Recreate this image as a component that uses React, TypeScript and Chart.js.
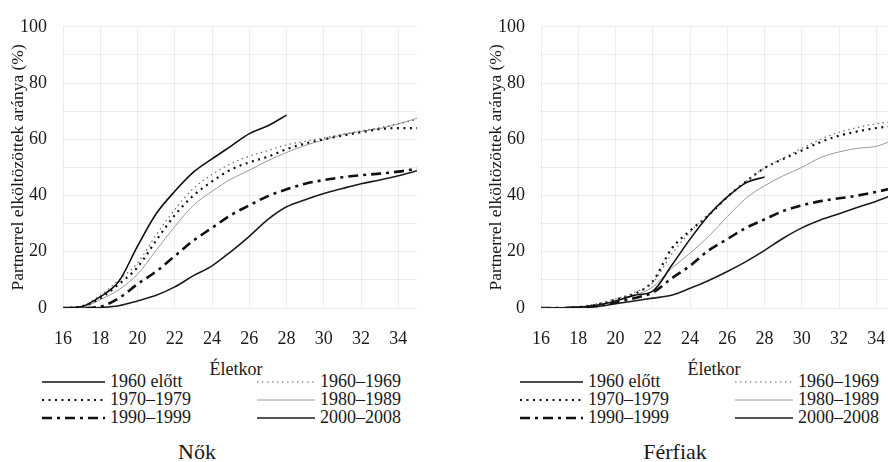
import React, { useEffect, useRef } from "react";
import { Chart, registerables } from "chart.js";

Chart.register(...registerables);

// ---------- data ----------
const AGES = [16, 17, 18, 19, 20, 21, 22, 23, 24, 25, 26, 27, 28, 29, 30, 31, 32, 33, 34, 35];
const X_TICKS = [16, 18, 20, 22, 24, 26, 28, 30, 32, 34];
const Y_TICKS = [0, 10, 20, 30, 40, 50, 60, 70, 80, 90, 100];
const Y_LABELED = [0, 20, 40, 60, 80, 100];

const SERIES_LABELS = ["1960 előtt", "1960–1969", "1970–1979", "1980–1989", "1990–1999", "2000–2008"];
const X_TITLE = "Életkor";
const Y_TITLE = "Partnerrel elköltözöttek aránya (%)";
const PANEL_TITLES = ["Nők", "Férfiak"];

// Nők (women)
const NOK_1960_ELOTT = [0, 0.5, 4, 9.5, 22, 33.5, 41.5, 48.3, 53, 57.5, 62, 64.8, 68.6];
const NOK_1960_1969 = [0, 0.7, 4.5, 10, 16, 26, 35, 42.5, 47.5, 51.3, 54, 56, 58, 59.3, 60.5, 61.8, 63, 64.2, 65.5, 67];
const NOK_1970_1979 = [0, 0.5, 3.5, 8.5, 14.5, 24, 33, 40, 45, 49.2, 51.8, 53.8, 56.5, 58.5, 60, 61.3, 62.5, 63.6, 64, 64];
const NOK_1980_1989 = [0, 0.3, 3, 6.5, 12, 20.5, 29, 36.5, 41.5, 45.8, 49, 52.4, 55.3, 57.8, 59.8, 61.6, 62.8, 63.8, 65.5, 67.5];
const NOK_1990_1999 = [0, 0, 0.5, 3.5, 8.5, 13, 18.5, 24, 28.5, 33, 36.5, 39.8, 42.2, 44.2, 45.5, 46.5, 47.2, 47.8, 48.5, 49.5];
const NOK_2000_2008 = [0, 0, 0.2, 0.8, 2.5, 4.5, 7.5, 11.5, 15, 20, 25.5, 31.5, 36, 38.5, 40.7, 42.5, 44.2, 45.5, 47, 48.8];

// Férfiak (men)
const FERFI_1960_ELOTT = [0, 0, 0.3, 1, 2.5, 4.5, 6, 15, 24.5, 33, 39.5, 44.5, 46.6];
const FERFI_1960_1969 = [0, 0, 0.5, 1.5, 3.2, 5.5, 9, 19, 27, 33.5, 39.5, 45, 49.8, 53.3, 56.8, 60, 62.5, 64.2, 65.5, 66.5];
const FERFI_1970_1979 = [0, 0, 0.3, 1.2, 3, 5, 9.5, 21, 27.5, 33, 39.5, 45, 49.8, 53, 56, 59, 61.3, 62.8, 64, 64.8];
const FERFI_1980_1989 = [0, 0, 0.2, 1, 2.5, 4.5, 7.5, 14, 19.5, 25.5, 32.5, 39, 43.5, 47, 50, 53.5, 55.5, 56.8, 57.5, 60];
const FERFI_1990_1999 = [0, 0, 0.2, 0.8, 2, 3.5, 5.5, 10.5, 15, 20.5, 24.5, 28.5, 31.5, 34.5, 36.5, 38, 39, 40, 41.3, 42.8];
const FERFI_2000_2008 = [0, 0, 0.1, 0.5, 1.5, 2.5, 3.5, 4.5, 7, 9.8, 13, 16.5, 20.5, 24.8, 28.5, 31.3, 33.5, 35.8, 38, 40.5];

const NOK_SERIES = [NOK_1960_ELOTT, NOK_1960_1969, NOK_1970_1979, NOK_1980_1989, NOK_1990_1999, NOK_2000_2008];
const FERFI_SERIES = [FERFI_1960_ELOTT, FERFI_1960_1969, FERFI_1970_1979, FERFI_1980_1989, FERFI_1990_1999, FERFI_2000_2008];

// ---------- styles ----------
const FONT = "'Liberation Serif', 'DejaVu Serif', serif";
const TEXT = "#1a1a1a";
const LINE_STYLES = [
  { color: "#111", width: 1.6, dash: [] as number[] },
  { color: "#6a6a6a", width: 1.2, dash: [1.5, 3.5] },
  { color: "#111", width: 2.2, dash: [2, 4.5] },
  { color: "#9a9a9a", width: 1, dash: [] as number[] },
  { color: "#111", width: 2.6, dash: [10, 5, 3, 5] },
  { color: "#1c1c1c", width: 1.6, dash: [] as number[] },
];

function PanelChart({ series }: { series: number[][] }) {
  const ref = useRef<HTMLCanvasElement>(null);
  useEffect(() => {
    const chart = new Chart(ref.current as HTMLCanvasElement, {
      type: "line",
      data: {
        datasets: series.map((vals, i) => ({
          label: SERIES_LABELS[i],
          data: vals.map((v, j) => ({ x: AGES[j], y: v })),
          borderColor: LINE_STYLES[i].color,
          borderWidth: LINE_STYLES[i].width,
          borderDash: LINE_STYLES[i].dash,
          pointRadius: 0,
          fill: false,
          cubicInterpolationMode: "monotone" as const,
        })),
      },
      options: {
        responsive: false,
        animation: false,
        layout: { padding: { left: 0, top: 22, right: 27, bottom: 0 } },
        plugins: { legend: { display: false }, tooltip: { enabled: false } },
        scales: {
          x: {
            type: "linear",
            min: 16,
            max: 35,
            afterBuildTicks: (s: any) => {
              s.ticks = X_TICKS.map((v) => ({ value: v }));
            },
            afterFit: (s: any) => {
              s.height = 42;
            },
            ticks: {
              padding: 20,
              maxRotation: 0,
              autoSkip: false,
              color: TEXT,
              font: { family: FONT, size: 18 },
            },
            grid: { color: "rgba(0,0,0,0.07)", drawTicks: false },
            border: { display: false },
          },
          y: {
            type: "linear",
            min: 0,
            max: 100,
            afterBuildTicks: (s: any) => {
              s.ticks = Y_TICKS.map((v) => ({ value: v }));
            },
            afterFit: (s: any) => {
              s.width = 63;
            },
            ticks: {
              padding: 16,
              autoSkip: false,
              color: TEXT,
              font: { family: FONT, size: 18 },
              callback: (v: any) => (Y_LABELED.includes(Number(v)) ? String(v) : ""),
            },
            grid: { color: "rgba(0,0,0,0.07)", drawTicks: false },
            border: { display: false },
            title: {
              display: true,
              text: Y_TITLE,
              color: TEXT,
              font: { family: FONT, size: 17.5 },
              padding: { top: 8, bottom: 0 },
            },
          },
        },
      },
    } as any);
    return () => chart.destroy();
  }, [series]);
  return <canvas ref={ref} width={444} height={350} style={{ display: "block" }} />;
}

function Sample({ i, width }: { i: number; width: number }) {
  const s = LINE_STYLES[i];
  return (
    <svg width={width} height={10} style={{ display: "block" }}>
      <line
        x1={0}
        y1={5}
        x2={width}
        y2={5}
        stroke={s.color}
        strokeWidth={s.width}
        strokeDasharray={s.dash.length ? s.dash.join(" ") : undefined}
      />
    </svg>
  );
}

function Panel({ left, series, title }: { left: number; series: number[][]; title: string }) {
  const rows = [381, 399, 417];
  const textStyle: React.CSSProperties = {
    position: "absolute",
    fontFamily: FONT,
    fontSize: 18,
    lineHeight: "18px",
    color: TEXT,
    whiteSpace: "nowrap",
  };
  const items: React.ReactNode[] = [];
  for (let k = 0; k < 6; k++) {
    const col = k % 2;
    const row = Math.floor(k / 2);
    const cy = rows[row];
    const lineLeft = col === 0 ? 42 : 257;
    const lineW = col === 0 ? 63 : 58;
    const textLeft = col === 0 ? 110 : 320;
    const idx = col === 0 ? [0, 2, 4][row] : [1, 3, 5][row];
    items.push(
      <div key={"s" + k} style={{ position: "absolute", left: lineLeft, top: cy - 4 }}>
        <Sample i={idx} width={lineW} />
      </div>
    );
    items.push(
      <div key={"t" + k} style={{ ...textStyle, left: textLeft, top: cy - 9 }}>
        {SERIES_LABELS[idx]}
      </div>
    );
  }
  return (
    <div style={{ position: "absolute", left, top: 0, width: 444, height: 462 }}>
      <PanelChart series={series} />
      <div style={{ ...textStyle, left: 136, width: 200, textAlign: "center", top: 359, lineHeight: "20px" }}>
        {X_TITLE}
      </div>
      {items}
      <div
        style={{
          ...textStyle,
          left: 97,
          width: 200,
          textAlign: "center",
          top: 440,
          fontSize: 22,
          lineHeight: "24px",
        }}
      >
        {title}
      </div>
    </div>
  );
}

export default function App() {
  return (
    <div
      style={{
        position: "fixed",
        left: 0,
        top: 0,
        width: 888,
        height: 462,
        overflow: "hidden",
        background: "#fff",
      }}
    >
      <Panel left={0} series={NOK_SERIES} title={PANEL_TITLES[0]} />
      <Panel left={478} series={FERFI_SERIES} title={PANEL_TITLES[1]} />
    </div>
  );
}
